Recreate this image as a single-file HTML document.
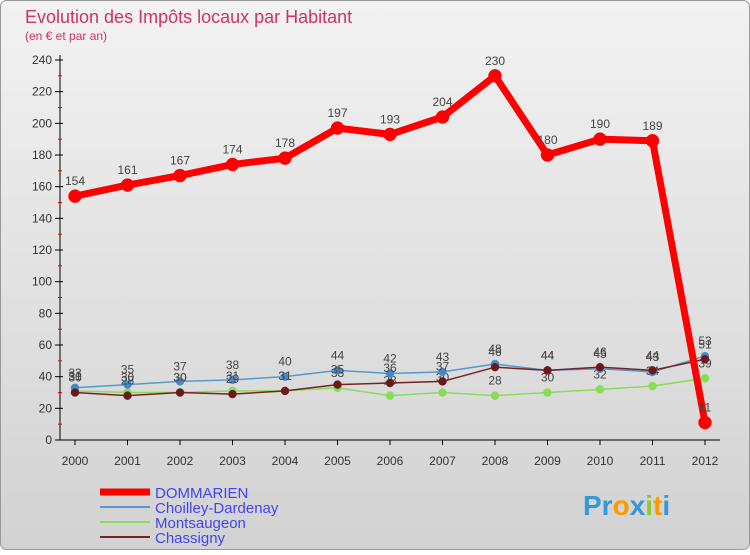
<!DOCTYPE html>
<html><head><meta charset="utf-8"><style>
body{margin:0;width:750px;height:550px;overflow:hidden;font-family:"Liberation Sans",sans-serif}
svg text{font-family:"Liberation Sans",sans-serif}
</style></head><body>
<svg id="c" width="750" height="550">
<defs><linearGradient id="bg" x1="0" y1="0" x2="0" y2="1"><stop offset="0" stop-color="#f2f2f2"/><stop offset="1" stop-color="#d2d2d2"/></linearGradient></defs>
<rect x="0.5" y="0.5" width="749" height="549" rx="6" fill="url(#bg)" stroke="#999"/>
<text x="25" y="23" font-size="18" fill="#cc3366">Evolution des Impôts locaux par Habitant</text>
<text x="25" y="40" font-size="12" fill="#cc3366">(en € et par an)</text>
<g id="axes"></g><g id="series"></g>
<g>
<line x1="100" y1="492" x2="150" y2="492" stroke="#ff0000" stroke-width="7"/>
<text x="155" y="498" font-size="15" fill="#4444ee">DOMMARIEN</text>
<line x1="100" y1="507" x2="150" y2="507" stroke="#5599cc" stroke-width="2"/>
<text x="155" y="513" font-size="15" fill="#4444ee">Choilley-Dardenay</text>
<line x1="100" y1="522" x2="150" y2="522" stroke="#88dd55" stroke-width="2"/>
<text x="155" y="528" font-size="15" fill="#4444ee">Montsaugeon</text>
<line x1="100" y1="537" x2="150" y2="537" stroke="#772222" stroke-width="2"/>
<text x="155" y="543" font-size="15" fill="#4444ee">Chassigny</text>
</g>
<text x="583" y="515" font-size="28" font-weight="bold"><tspan fill="#3399dd">Pr</tspan><tspan fill="#ff9900">o</tspan><tspan fill="#3399dd">x</tspan><tspan fill="#88cc33">i</tspan><tspan fill="#ff9900">t</tspan><tspan fill="#3399dd">i</tspan></text>
</svg>
<script>
const years=[2000,2001,2002,2003,2004,2005,2006,2007,2008,2009,2010,2011,2012];
const yTicks=[0,20,40,60,80,100,120,140,160,180,200,220,240];
const dommarien=[154,161,167,174,178,197,193,204,230,180,190,189,11];
const choilley=[33,35,37,38,40,44,42,43,48,44,45,43,53];
const montsaugeon=[31,30,30,31,31,33,28,30,28,30,32,34,39];
const chassigny=[30,28,30,29,31,35,36,37,46,44,46,44,51];
const NS="http://www.w3.org/2000/svg";
const X=i=>75+i*52.5, Y=v=>440-v*380/240;
function mk(t,a,p){const e=document.createElementNS(NS,t);for(const k in a)e.setAttribute(k,a[k]);p.appendChild(e);return e;}
const ax=document.getElementById('axes'), sg=document.getElementById('series');
let l=mk('line',{x1:60,y1:55,x2:60,y2:440,stroke:'#000'},ax);


l=mk('line',{x1:60,y1:440,x2:720,y2:440,stroke:'#000'},ax);


yTicks.forEach((v,i)=>{
  mk('line',{x1:55,y1:Y(v),x2:63,y2:Y(v),stroke:'#000'},ax);
  if(i<yTicks.length-1)mk('line',{x1:58,y1:Y(v+10),x2:62,y2:Y(v+10),stroke:'#e00'},ax);
  const t=mk('text',{x:52,y:Y(v)+4,'font-size':12,'text-anchor':'end',fill:'#333'},ax);t.textContent=v;
  
  
});
years.forEach((yr,i)=>{
  mk('line',{x1:X(i),y1:440,x2:X(i),y2:445,stroke:'#000'},ax);
  const t=mk('text',{x:X(i),y:465,'font-size':12,'text-anchor':'middle',fill:'#333'},ax);t.textContent=yr;
  
  
});
function series(d,col,w,r,name,fill){
  const g=mk('g',{},sg);
  
  
  mk('polyline',{points:d.map((v,i)=>X(i)+','+Y(v)).join(' '),fill:'none',stroke:col,'stroke-width':w,'stroke-linejoin':'round'},g);
  d.forEach((v,i)=>{
    const c=mk('circle',{cx:X(i),cy:Y(v),r:r,fill:fill,stroke:col,'stroke-width':0.5},g);
    
    
    const t=mk('text',{x:X(i),y:Y(v)-11,'font-size':12,'text-anchor':'middle',fill:'#444'},g);t.textContent=v;
    
    
  });
}
series(montsaugeon,'#88dd55',1.5,4,'montsaugeon','#88dd55');
series(choilley,'#5599cc',1.5,4,'choilley','#4488cc');
series(chassigny,'#772222',1.5,4,'chassigny','#6b1a1a');
series(dommarien,'#ff0000',7,6.5,'dommarien','#ff0000');
</script>
</body></html>
